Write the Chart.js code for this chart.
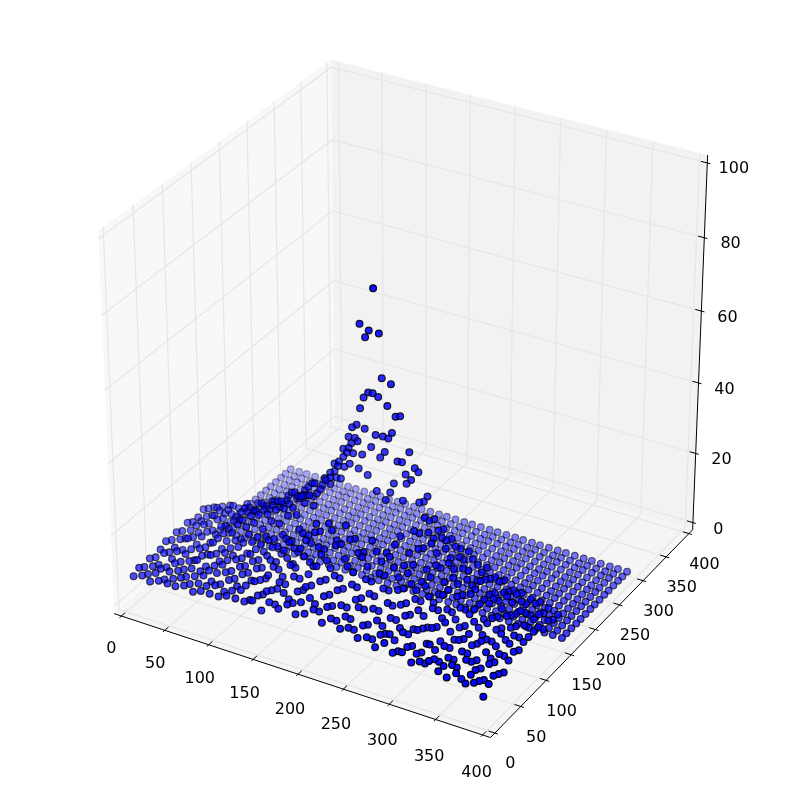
<!DOCTYPE html><html><head><style>html,body{margin:0;background:#fff}canvas{display:block}</style>
<script src="https://cdn.jsdelivr.net/npm/chart.js@4"></script></head><body><canvas id="c" width="794" height="795"></canvas><script>
const xTicks=[0,50,100,150,200,250,300,350,400],yTicks=[0,50,100,150,200,250,300,350,400],zTicks=[0,20,40,60,80,100];
const gridX=[7,17,26,36,46,55,65,75,84,94,104,113,123,133,142,152,161,171,181,190,200,210,219,229,239,248,258,268,277,287,296,306,316,325,335,345,354,364,374,383,393];
const gridY=[5,15,24,34,44,53,63,73,82,92,102,111,121,131,140,150,160,169,179,189,198,208,218,227,237,247,256,266,276,285,295];
const _=null;
const z00=[8,9,8,9,9,9,10,9,10,10,10,11,11,11,12,10,13,12,14,12,13,15,12,14,12,13,11,12,10,12,10,11,9,10,11,9,8,10,8,9,6];
const z01=[9,8,9,8,9,10,9,10,10,11,10,11,12,10,12,14,11,15,13,14,16,13,15,12,14,11,13,10,12,13,9,11,10,8,10,9,10,7,9,8,8];
const z02=[8,9,9,9,10,9,10,11,10,10,12,11,12,14,11,13,16,12,15,17,13,16,14,15,12,16,12,14,11,10,13,10,9,12,8,10,8,11,9,7,9];
const z03=[9,8,8,10,9,10,10,11,11,12,11,13,12,13,15,12,14,17,14,16,18,15,17,13,16,14,15,11,14,12,11,13,10,9,11,8,11,9,8,10,8];
const z04=[8,10,9,9,10,11,10,11,12,11,13,12,14,12,16,14,18,15,17,20,17,19,16,18,15,17,13,16,12,14,11,12,13,10,9,12,9,8,11,9,7];
const z05=[9,9,10,10,9,11,12,11,12,13,12,14,13,16,14,18,16,20,18,22,19,17,21,16,19,15,18,14,15,13,15,11,12,14,10,11,10,12,8,10,9];
const z06=[10,9,9,10,11,10,11,12,12,12,14,13,15,14,18,15,20,17,22,19,24,21,18,23,17,20,16,17,14,16,12,15,13,10,12,11,9,11,10,8,10];
const z07=[9,10,11,10,10,12,11,12,13,12,14,14,16,15,19,17,21,24,20,26,23,25,22,19,24,18,21,16,18,14,16,13,14,12,11,13,10,9,12,10,9];
const z08=[10,9,10,11,10,12,12,13,13,14,14,16,15,18,16,21,19,23,26,22,27,24,21,25,20,22,17,19,15,17,13,16,12,14,13,10,12,11,9,11,10];
const z09=[9,10,10,11,11,12,13,12,14,14,15,15,17,16,20,19,23,_,_,_,_,_,_,_,21,24,19,20,16,18,14,16,15,12,13,11,12,10,11,9,10];
const z10=[10,10,11,10,12,12,14,14,16,15,18,18,21,22,26,26,_,_,_,_,_,_,_,_,_,25,21,23,18,20,16,18,14,15,13,14,11,12,10,11,10];
const z11=[9,10,10,12,11,13,14,16,17,18,20,21,22,26,27,_,_,_,_,_,_,_,_,_,_,_,26,22,24,18,20,15,17,15,13,14,12,11,13,9,10];
const z12=[9,10,11,11,13,12,15,16,17,19,21,21,24,25,29,_,_,_,_,_,_,_,_,_,_,_,24,25,20,22,17,18,14,16,13,12,14,10,11,10,8];
const z13=[10,9,11,12,11,14,14,17,16,19,20,23,23,27,26,_,_,_,_,_,_,_,_,_,_,_,27,22,23,18,19,16,14,15,12,13,11,12,9,10,9];
const z14=[9,10,9,12,11,13,15,15,17,17,21,20,24,23,28,_,_,_,_,_,_,_,_,_,_,_,25,23,21,20,17,18,15,14,14,12,12,10,11,9,8];
const z15=[8,9,10,10,12,11,13,15,14,18,18,21,20,24,25,_,_,_,_,_,_,_,_,_,_,_,24,22,20,18,18,15,15,13,13,11,11,10,10,9,8];
const zFlat=[0,0,0,0,0,0,0,0,0,0,0,0,0,0,0,0,0,0,0,0,0,0,0,0,0,0,0,0,0,0,0,0,0,0,0,0,0,0,0,0,0];
const zRows=[z00,z01,z02,z03,z04,z05,z06,z07,z08,z09,z10,z11,z12,z13,z14,z15,zFlat,zFlat,zFlat,zFlat,zFlat,zFlat,zFlat,zFlat,zFlat,zFlat,zFlat,zFlat,zFlat,zFlat,zFlat];
const peakX=[197,182,192,203,188,206,216,191,196,202,186,182,212,221,226,178,173,187,217,199,207,213,169,176,179,172,194,163,169,167,174,184,209,236,204,163,153,158,157,164,170,223,228,180,242,246,190,232,238,233,219,153,148,148,155,160,143,200,215,256,252,247,229,210];
const peakY=[140,140,140,140,140,140,140,140,140,140,140,140,140,140,140,140,140,140,140,140,140,140,140,140,140,140,140,140,140,140,140,140,140,140,140,140,140,140,140,140,140,140,140,140,140,140,140,140,140,140,140,140,140,140,140,140,140,140,140,140,140,140,140,140];
const peakZ=[83.6,73.1,72,72,69.9,60.2,59.3,55.2,55.4,54.8,53.5,50.3,53.1,50.8,51.3,45.5,44.4,45,46.1,44.2,44.4,44.3,41.5,41.7,41,39.9,40.5,37.7,38.4,37,37.3,37.7,40.3,42.2,38.4,35.5,32.9,33.8,32.5,32.8,34.1,38.7,38.9,33.5,38.3,37.5,32.5,35.8,34.7,33.3,32.3,30.8,29.9,28.6,29.1,29.2,27.5,28.8,29.5,31.5,29.8,29.2,28.3,27];
const LO=-8.333,HI=408.333,ZLO=-2.083,ZHI=102.083;
function proj(x,y,z){const px=x/400-.5,py=y/400-.5,pz=z/100-.5;
 const d=px*.4330127-py*.75+pz*.5,w=10-d;
 return {x:(px*.8660254+py*.5)/w,y:(-px*.25+py*.4330127+pz*.8660254)/w,d:1/w};}
const ds=[];
function line(pts,color,width,order,fill){ds.push({type:'scatter',showLine:true,data:pts.map(p=>proj(...p)),borderColor:color,borderWidth:width,pointRadius:0,order,fill:fill?'shape':false,backgroundColor:fill||'transparent',tension:0});}
line([[LO,LO,ZLO],[HI,LO,ZLO],[HI,HI,ZLO],[LO,HI,ZLO],[LO,LO,ZLO]],'rgba(0,0,0,0)',0,100,'rgba(236,236,236,0.5)');
line([[LO,LO,ZLO],[LO,HI,ZLO],[LO,HI,ZHI],[LO,LO,ZHI],[LO,LO,ZLO]],'rgba(0,0,0,0)',0,100,'rgba(242,242,242,0.5)');
line([[LO,HI,ZLO],[HI,HI,ZLO],[HI,HI,ZHI],[LO,HI,ZHI],[LO,HI,ZLO]],'rgba(0,0,0,0)',0,100,'rgba(230,230,230,0.5)');
const G='#e6e6e6';
for(const t of xTicks)line([[t,LO,ZLO],[t,HI,ZLO],[t,HI,ZHI]],G,1.2,90);
for(const t of yTicks)line([[HI,t,ZLO],[LO,t,ZLO],[LO,t,ZHI]],G,1.2,90);
for(const t of zTicks)line([[LO,LO,t],[LO,HI,t],[HI,HI,t]],G,1.2,90);
line([[LO,LO,ZLO],[HI,LO,ZLO]],'#000',1,80);line([[HI,LO,ZLO],[HI,HI,ZLO]],'#000',1,80);line([[HI,HI,ZLO],[HI,HI,ZHI]],'#000',1,80);
for(const t of xTicks)line([[t,LO-3.33,ZLO],[t,LO+6.67,ZLO]],'#000',1,80);
for(const t of yTicks)line([[HI-6.67,t,ZLO],[HI+3.33,t,ZLO]],'#000',1,80);
for(const t of zTicks)line([[HI-6.67,HI,t],[HI+3.33,HI,t]],'#000',1,80);
const pts=[];
for(let j=gridY.length-1;j>=0;j--)for(let i=0;i<gridX.length;i++){const z=zRows[j][i];if(z!==null)pts.push(proj(gridX[i],gridY[j],z));}
peakX.forEach((x,k)=>pts.push(proj(x,peakY[k],peakZ[k])));
const ds0=pts.map(p=>p.d),dmin=Math.min(...ds0),dmax=Math.max(...ds0);
const alpha=p=>1-.7*(dmax-p.d)/(dmax-dmin);
ds.push({type:'scatter',data:pts,pointRadius:3.4,borderWidth:1.2,backgroundColor:pts.map(p=>`rgba(0,0,255,${alpha(p)})`),borderColor:pts.map(p=>`rgba(0,0,0,${alpha(p)})`),order:1});
const labels={id:'labels',afterDatasetsDraw(ch){const c=ch.ctx,X=ch.scales.x,Y=ch.scales.y;c.save();c.font='16px "DejaVu Sans"';c.fillStyle='#000';c.textAlign='center';c.textBaseline='middle';
 const put=(p,t,dx,dy)=>c.fillText(t,X.getPixelForValue(p.x)+dx,Y.getPixelForValue(p.y)+dy);
 xTicks.forEach(t=>put(proj(t,LO,ZLO),t,-10+t/100,33+t/80));yTicks.forEach(t=>put(proj(HI,t,ZLO),t,15.5,31));zTicks.forEach(t=>put(proj(HI,HI,t),t,25.5+t/100,7-t/100));c.restore();}};
new Chart('c',{data:{datasets:ds},plugins:[labels],options:{responsive:false,animation:false,layout:{padding:0},plugins:{legend:{display:false},tooltip:{enabled:false}},scales:{x:{type:'linear',min:-.0966,max:.0913,display:false},y:{type:'linear',min:-.0961,max:.09088,display:false}}}});
</script></body></html>
